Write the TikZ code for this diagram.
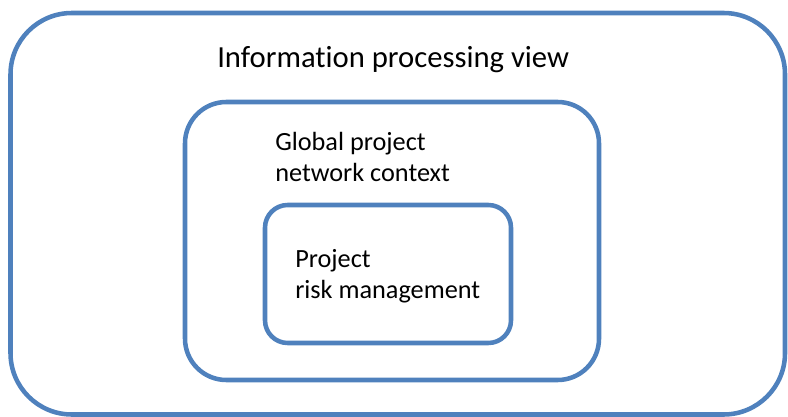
\documentclass[tikz,border=0pt]{standalone}
\usepackage{fontspec}
\setmainfont[Ligatures=NoCommon]{Carlito}
\definecolor{boxblue}{HTML}{4F81BD}
\begin{document}
\begin{tikzpicture}[x=0.75pt,y=-0.75pt,
  frame/.style={draw=boxblue,line width=3.4pt},
  lbl/.style={inner sep=0pt,anchor=base west,align=left,text=black}]
\useasboundingbox (0,0) rectangle (788,417);
\draw[frame,rounded corners=46pt] (10.5,13) rectangle (785,414.5);
\draw[frame,rounded corners=31pt] (185,102) rectangle (599,380);
\draw[frame,rounded corners=17pt] (265,205) rectangle (511,343);
\node[lbl,font=\fontsize{23}{28}\selectfont] (title) at (217,68) {Information processing view};
\node[lbl,font=\fontsize{19.7}{23.25}\selectfont] (global) at (275,181) {Global project\\network context};
\node[lbl,font=\fontsize{19.7}{23.25}\selectfont] (risk) at (295,298) {Project\\risk management};
\end{tikzpicture}
\end{document}
